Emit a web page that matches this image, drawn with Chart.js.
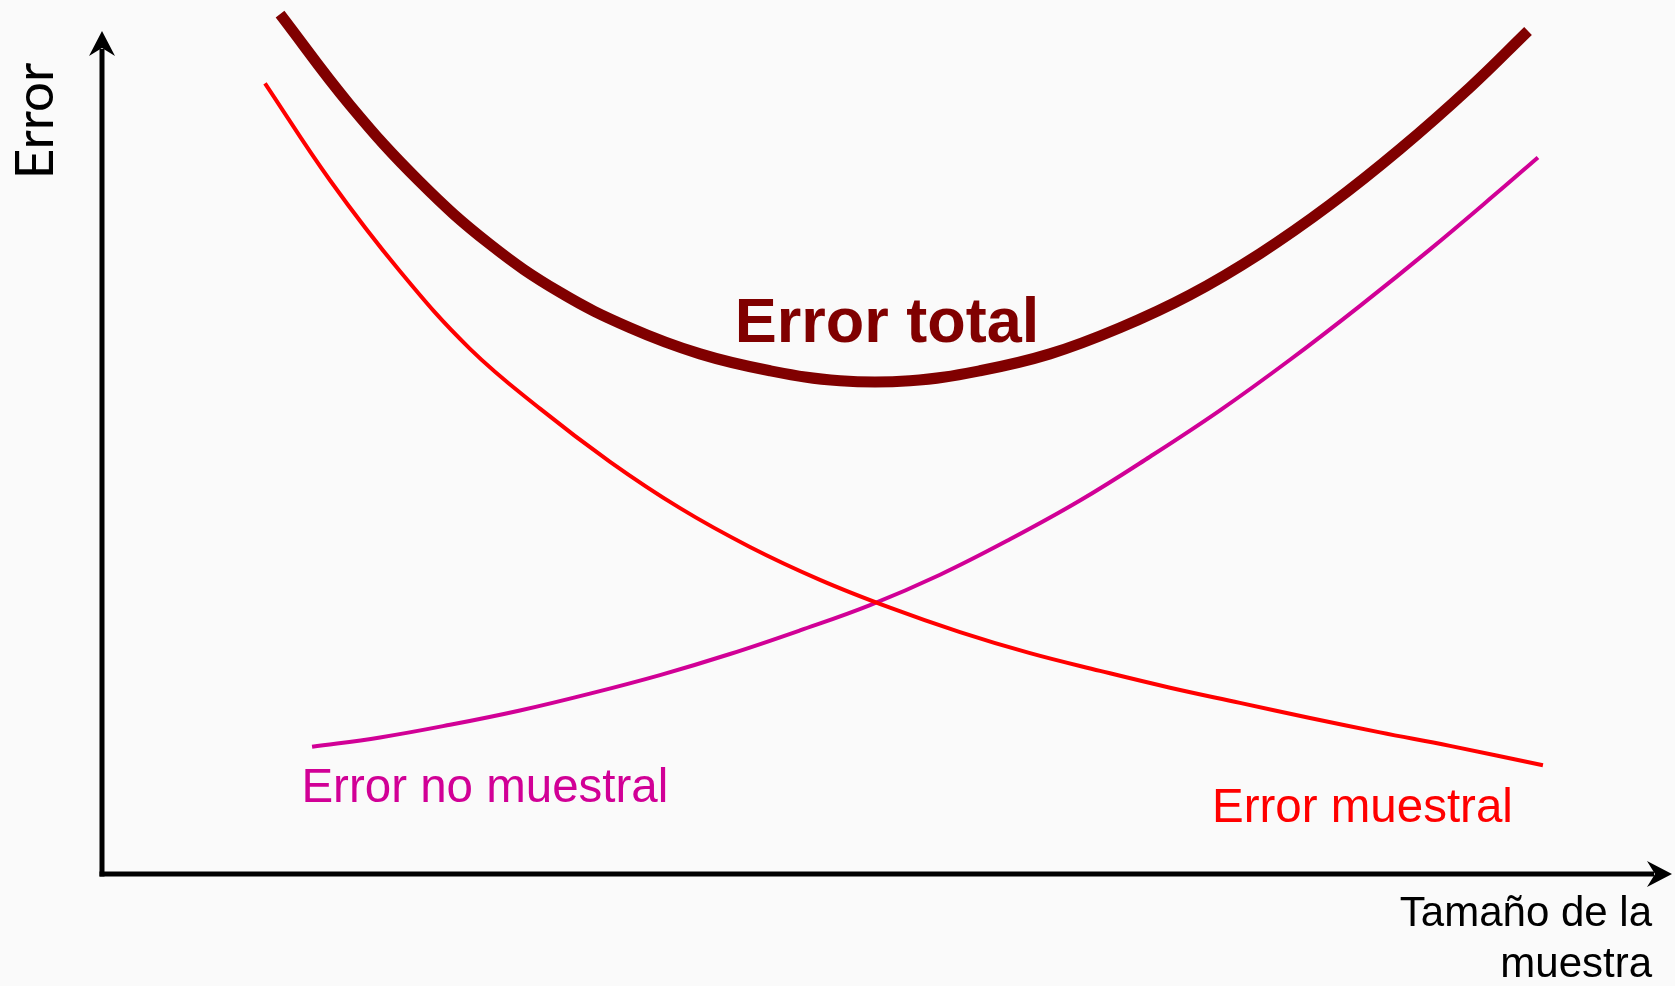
<!DOCTYPE html>
<html>
<head>
<meta charset="utf-8">
<script src="https://cdn.jsdelivr.net/npm/chart.js@4/dist/chart.umd.min.js"></script>
<style>
  html, body { margin: 0; padding: 0; background: #fafafa; }
  #wrap { width: 1675px; height: 986px; }
</style>
</head>
<body>
<div id="wrap"><canvas id="c" width="1675" height="986"></canvas></div>
<script>
// Sample size (x) and error (y) in arbitrary units 0-100
const totalSize   = [11.34, 15.80, 20.25, 24.71, 29.17, 33.63, 38.09, 42.55, 47.01, 51.46, 55.92, 60.38, 64.84, 69.30, 73.76, 78.22, 82.68, 87.13, 90.83];
const totalError  = [102.0, 91.2, 82.1, 74.7, 69.0, 64.8, 61.7, 59.7, 58.5, 58.5, 59.7, 61.7, 64.8, 68.7, 73.6, 79.4, 86.0, 93.3, 100.0];

const sampSize    = [10.38, 14.52, 18.98, 23.44, 27.90, 32.36, 36.82, 41.27, 45.73, 50.19, 54.65, 59.11, 63.57, 68.03, 72.48, 76.94, 81.40, 85.86, 91.78];
const sampError   = [93.8, 82.3, 71.5, 62.3, 55.2, 48.9, 43.4, 38.8, 34.9, 31.6, 28.7, 26.2, 24.1, 22.1, 20.3, 18.5, 16.8, 15.2, 12.9];

const nonSampSize  = [13.38, 17.71, 22.17, 26.62, 31.08, 35.54, 40.00, 44.46, 48.92, 53.38, 57.83, 62.29, 66.75, 71.21, 75.67, 80.13, 84.59, 89.04, 91.46];
const nonSampError = [15.1, 16.2, 17.7, 19.4, 21.4, 23.6, 26.1, 28.9, 31.9, 35.5, 39.7, 44.3, 49.5, 55.0, 61.0, 67.4, 74.1, 81.1, 85.0];

const seriesNames = ['Error total', 'Error muestral', 'Error no muestral'];
const xAxisTitle = ['Tamaño de la', 'muestra'];
const yAxisTitle = 'Error';

const pts = (xs, ys) => xs.map((x, i) => ({ x: x, y: ys[i] }));

// label anchors in data units
const labelAnchors = [
  { text: 'Error total', x: 40.3, y: 63.1, color: '#800000', font: 'bold 63px "Liberation Sans", Arial, sans-serif' },
  { text: 'Error no muestral', x: 12.7, y: 8.5, color: '#d10096', font: '47.5px "Liberation Sans", Arial, sans-serif' },
  { text: 'Error muestral', x: 70.7, y: 6.2, color: '#ff0000', font: '47.5px "Liberation Sans", Arial, sans-serif' }
];

const bgPlugin = {
  id: 'bg',
  beforeDraw(chart) {
    const ctx = chart.ctx;
    ctx.save();
    ctx.fillStyle = '#fafafa';
    ctx.fillRect(0, 0, chart.width, chart.height);
    ctx.restore();
  }
};

function arrowHead(ctx, tipX, tipY, dirX, dirY) {
  const len = 25, half = 13, notch = 17;
  const px = -dirY, py = dirX;
  ctx.beginPath();
  ctx.moveTo(tipX, tipY);
  ctx.lineTo(tipX - dirX * len + px * half, tipY - dirY * len + py * half);
  ctx.lineTo(tipX - dirX * notch, tipY - dirY * notch);
  ctx.lineTo(tipX - dirX * len - px * half, tipY - dirY * len - py * half);
  ctx.closePath();
  ctx.fill();
}

const axesPlugin = {
  id: 'axesArrows',
  afterDraw(chart) {
    const ctx = chart.ctx;
    const xs = chart.scales.x, ys = chart.scales.y;
    const x0 = xs.getPixelForValue(xs.min);
    const x1 = xs.getPixelForValue(xs.max);
    const y0 = ys.getPixelForValue(ys.min);
    const y1 = ys.getPixelForValue(ys.max);
    ctx.save();
    ctx.strokeStyle = '#000';
    ctx.fillStyle = '#000';
    ctx.lineWidth = 5;
    ctx.lineCap = 'butt';
    ctx.beginPath();
    ctx.moveTo(x0, y0 + 2.5);
    ctx.lineTo(x0, y1 + 18);
    ctx.stroke();
    ctx.beginPath();
    ctx.moveTo(x0 - 2.5, y0);
    ctx.lineTo(x1 - 18, y0);
    ctx.stroke();
    arrowHead(ctx, x0, y1, 0, -1);
    arrowHead(ctx, x1, y0, 1, 0);

    // axis titles
    ctx.fillStyle = '#000';
    ctx.font = '42px "Liberation Sans", Arial, sans-serif';
    ctx.textAlign = 'right';
    ctx.textBaseline = 'alphabetic';
    ctx.fillText(xAxisTitle[0], x1 - 20, y0 + 52);
    ctx.fillText(xAxisTitle[1], x1 - 20, y0 + 103);

    ctx.save();
    ctx.translate(x0 - 49, y1 + 90);
    ctx.rotate(-Math.PI / 2);
    ctx.font = '53px "Lato", "DejaVu Sans", sans-serif';
    ctx.textAlign = 'center';
    ctx.fillText(yAxisTitle, 0, 0);
    ctx.restore();

    // series labels
    ctx.textAlign = 'left';
    labelAnchors.forEach(l => {
      ctx.font = l.font;
      ctx.fillStyle = l.color;
      ctx.fillText(l.text, xs.getPixelForValue(l.x), ys.getPixelForValue(l.y));
    });
    ctx.restore();
  }
};

new Chart(document.getElementById('c'), {
  type: 'line',
  data: {
    datasets: [
      { label: seriesNames[1], data: pts(sampSize, sampError), borderColor: '#ff0000', borderWidth: 4, clip: false },
      { label: seriesNames[2], data: pts(nonSampSize, nonSampError), borderColor: '#d10096', borderWidth: 4, clip: false },
      { label: seriesNames[0], data: pts(totalSize, totalError), borderColor: '#800000', borderWidth: 11, clip: false }
    ]
  },
  options: {
    responsive: false,
    animation: false,
    devicePixelRatio: 1,
    layout: { padding: { left: 102, top: 31, right: 3, bottom: 112 } },
    elements: {
      point: { radius: 0, hoverRadius: 0 },
      line: { tension: 0.4, capBezierPoints: false, fill: false, borderCapStyle: 'butt', borderJoinStyle: 'round' }
    },
    plugins: { legend: { display: false }, tooltip: { enabled: false } },
    scales: {
      x: { type: 'linear', min: 0, max: 100, display: false },
      y: { type: 'linear', min: 0, max: 100, display: false }
    }
  },
  plugins: [bgPlugin, axesPlugin]
});
</script>
</body>
</html>
